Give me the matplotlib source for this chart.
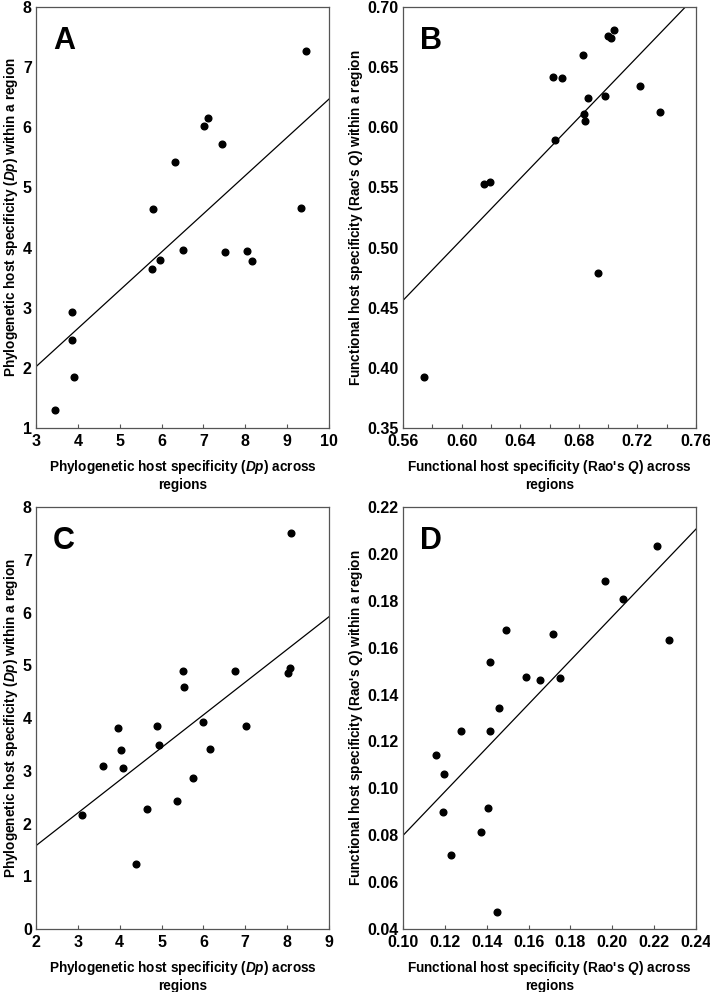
import numpy as np
import matplotlib
matplotlib.use("Agg")
import matplotlib.pyplot as plt
from matplotlib.ticker import MultipleLocator, FormatStrFormatter

plt.rcParams["font.family"] = ["Liberation Sans", "DejaVu Sans"]
plt.rcParams["font.weight"] = "bold"
plt.rcParams["mathtext.fontset"] = "custom"
plt.rcParams["mathtext.bfit"] = "Liberation Sans:bold:italic"
plt.rcParams["mathtext.it"] = "Liberation Sans:italic"
plt.rcParams["mathtext.bf"] = "Liberation Sans:bold"
plt.rcParams["mathtext.rm"] = "Liberation Sans"

# panel A: phylogenetic, 17 points
a_x = [9.44, 7.10, 7.02, 7.45, 6.33, 5.79, 9.32, 6.50, 5.77, 5.97, 7.51, 8.04, 8.16, 3.86, 3.85, 3.90, 3.46]
a_y = [7.27, 6.16, 6.03, 5.72, 5.43, 4.64, 4.66, 3.96, 3.64, 3.80, 3.93, 3.95, 3.77, 2.93, 2.47, 1.85, 1.30]
a_line = ([3, 10], [2.02, 6.47])

# panel B: functional, 17 points
b_x = [0.7037, 0.7000, 0.7022, 0.6829, 0.6622, 0.6688, 0.7215, 0.6863, 0.6982, 0.6838,
       0.6845, 0.7351, 0.6638, 0.6152, 0.6191, 0.6932, 0.5746]
b_y = [0.6810, 0.6760, 0.6740, 0.6601, 0.6419, 0.6411, 0.6344, 0.6246, 0.6257, 0.6112,
       0.6056, 0.6126, 0.5891, 0.5528, 0.5545, 0.4785, 0.3928]
b_line = ([0.56, 0.7527], [0.4561, 0.70])

# panel C: phylogenetic, 20 points
c_x = [8.08, 5.52, 5.53, 6.76, 8.01, 8.07, 6.00, 7.02, 4.90, 3.95,
       4.93, 4.04, 3.61, 4.09, 6.15, 5.75, 5.37, 4.65, 3.10, 4.38]
c_y = [7.51, 4.89, 4.58, 4.89, 4.85, 4.94, 3.92, 3.85, 3.85, 3.82,
       3.49, 3.40, 3.09, 3.05, 3.41, 2.86, 2.43, 2.27, 2.16, 1.24]
c_line = ([2, 9], [1.58, 5.92])

# panel D: functional, 20 points
d_x = [0.2215, 0.1964, 0.2049, 0.2272, 0.1490, 0.1715, 0.1417, 0.1589, 0.1655, 0.1750,
       0.1461, 0.1279, 0.1418, 0.1160, 0.1196, 0.1193, 0.1407, 0.1374, 0.1231, 0.1447]
d_y = [0.2035, 0.1885, 0.1808, 0.1634, 0.1677, 0.1657, 0.1540, 0.1474, 0.1462, 0.1472,
       0.1342, 0.1246, 0.1244, 0.1141, 0.1061, 0.0897, 0.0915, 0.0813, 0.0716, 0.0472]
d_line = ([0.10, 0.24], [0.0799, 0.2106])

phy_x = "Phylogenetic host specificity ($\\bfit{Dp}$) across\nregions"
phy_y = "Phylogenetic host specificity ($\\bfit{Dp}$) within a region"
fun_x = "Functional host specificity (Rao's $\\bfit{Q}$) across\nregions"
fun_y = "Functional host specificity (Rao's $\\bfit{Q}$) within a region"

panels = [
    # letter, x, y, line, rect, xlim, ylim, xmaj, xmin, ymaj, fmt_x, fmt_y, xlabel, ylabel
    ("A", a_x, a_y, a_line, [0.0507, 0.5685, 0.4127, 0.4244], (3, 10), (1, 8), 1, 1, 1, "%d", "%d", phy_x, phy_y),
    ("B", b_x, b_y, b_line, [0.5676, 0.5685, 0.4127, 0.4244], (0.56, 0.76), (0.35, 0.70), 0.04, 0.02, 0.05, "%.2f", "%.2f", fun_x, fun_y),
    ("C", c_x, c_y, c_line, [0.0507, 0.0635, 0.4127, 0.4254], (2, 9), (0, 8), 1, 1, 1, "%d", "%d", phy_x, phy_y),
    ("D", d_x, d_y, d_line, [0.5676, 0.0635, 0.4127, 0.4254], (0.10, 0.24), (0.04, 0.22), 0.02, 0.02, 0.02, "%.2f", "%.2f", fun_x, fun_y),
]

fig = plt.figure(figsize=(7.1, 9.92), dpi=100)
for letter, xs, ys, line, rect, xlim, ylim, xmaj, xmin, ymaj, fx, fy, xl, yl in panels:
    ax = fig.add_axes(rect)
    ax.plot(line[0], line[1], color="black", lw=0.9, clip_on=True)
    ax.plot(xs, ys, "o", color="black", ms=4.8, clip_on=False)
    ax.set_xlim(*xlim)
    ax.set_ylim(*ylim)
    ax.xaxis.set_major_locator(MultipleLocator(xmaj))
    ax.xaxis.set_minor_locator(MultipleLocator(xmin))
    ax.yaxis.set_major_locator(MultipleLocator(ymaj))
    ax.xaxis.set_major_formatter(FormatStrFormatter(fx))
    ax.yaxis.set_major_formatter(FormatStrFormatter(fy))
    ax.tick_params(axis="x", which="both", direction="in", length=3, width=0.8, color="#555555",
                   labelsize=11.5, pad=4)
    ax.tick_params(axis="y", which="both", length=0, labelsize=11.5, pad=3)
    for lab in ax.get_xticklabels() + ax.get_yticklabels():
        lab.set_fontweight("bold")
    for sp in ax.spines.values():
        sp.set_color("#555555")
        sp.set_linewidth(0.9)
    ax.set_xlabel(xl, fontsize=9.8, fontweight="bold", labelpad=7, linespacing=1.15)
    ax.set_ylabel(yl, fontsize=9.8, fontweight="bold", labelpad=2)
    ax.text(0.058, 0.955, letter, transform=ax.transAxes, fontsize=22, fontweight="bold",
            ha="left", va="top")

fig.savefig("out.png", dpi=100)
